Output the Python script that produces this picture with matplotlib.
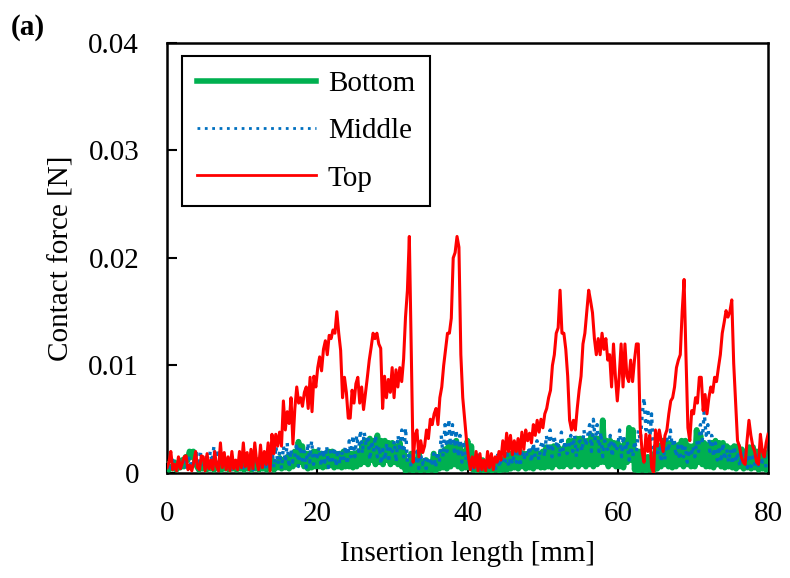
import numpy as np
import matplotlib.pyplot as plt

plt.rcParams['font.family'] = ['Liberation Serif', 'DejaVu Serif']

# Contact force, in mN (converted to N below)
# Top: sampled every ~0.25 mm from 0 to 80 mm
top_mN = [
    0.5, 1.0, 2.0, 0.3, 0.8, 0.2, 1.5, 0.4, 0.9, 1.5, 1.6, 0.3, 0.7, 0.2, 1.0, 2.0, 0.5, 0.3, 1.6, 1.5,
    0.2, 1.8, 0.4, 1.2, 0.3, 2.0, 0.6, 0.2, 2.8, 0.5, 1.9, 0.3, 1.5, 0.2, 2.0, 0.4, 1.2, 0.3, 2.0, 0.5,
    2.8, 0.6, 1.9, 0.3, 2.2, 0.4, 2.8, 1.0, 0.3, 2.6, 0.5, 2.0, 0.8, 2.8, 0.2, 3.6, 1.8, 3.6, 2.5, 3.8,
    2.5, 6.7, 4.0, 5.7, 4.6, 7.0, 2.7, 6.0, 8.0, 6.5, 7.0, 6.2, 7.5, 8.0, 6.0, 8.9, 5.7, 9.0, 8.0, 9.8,
    10.8, 9.5, 11.5, 12.3, 11.0, 12.8, 12.5, 13.3, 13.0, 15.0, 13.0, 11.4, 7.0, 8.9, 7.5, 5.1, 5.1, 7.7, 6.5, 8.3,
    8.9, 6.5, 8.0, 5.9, 7.4, 8.9, 10.5, 11.7, 13.0, 12.5, 13.0, 12.0, 11.6, 6.0, 9.0, 7.0, 8.7, 7.5, 9.8, 7.0,
    9.6, 8.0, 9.8, 8.5, 10.6, 14.5, 17.0, 22.0, 11.5, 1.0, 3.5, 4.0, 1.5, 3.0, 1.9, 2.5, 4.0, 3.2, 5.0, 4.5,
    5.5, 6.0, 4.5, 7.0, 8.0, 10.0, 11.5, 13.0, 13.0, 14.4, 20.0, 20.5, 22.0, 21.0, 11.0, 7.0, 5.0, 3.0, 1.5, 0.3,
    1.5, 0.5, 2.0, 0.2, 1.8, 0.3, 1.2, 0.2, 2.0, 0.5, 1.8, 0.3, 1.5, 1.0, 2.0, 1.2, 3.0, 1.5, 3.7, 2.0,
    3.5, 1.7, 3.0, 2.0, 3.2, 1.8, 3.8, 2.2, 4.0, 3.0, 3.7, 2.8, 4.5, 3.5, 4.9, 3.8, 5.0, 4.2, 5.5, 6.0,
    7.0, 7.7, 10.0, 11.0, 13.0, 13.5, 17.0, 13.0, 13.0, 11.5, 9.0, 4.9, 4.0, 4.9, 4.0, 6.0, 7.7, 9.0, 12.0, 13.0,
    15.0, 17.0, 16.0, 14.9, 12.5, 11.0, 12.5, 11.0, 13.0, 11.5, 12.5, 10.5, 11.0, 8.0, 12.0, 9.0, 6.7, 9.0, 12.0, 8.0,
    12.0, 9.0, 8.5, 10.5, 8.5, 10.5, 12.0, 12.0, 4.2, 2.0, 1.0, 3.6, 2.0, 3.5, 0.5, 0.0, 4.0, 2.5, 4.0, 3.0,
    2.0, 3.5, 4.0, 5.5, 6.7, 7.0, 8.0, 9.8, 10.5, 11.0, 15.0, 18.0, 10.8, 4.2, 3.0, 5.8, 5.5, 7.0, 6.5, 8.9,
    8.9, 5.8, 7.3, 5.5, 7.0, 8.0, 7.5, 8.9, 8.5, 9.8, 11.0, 13.0, 14.0, 15.1, 14.5, 15.0, 16.1, 10.2, 6.5, 3.0,
    2.5, 1.5, 1.0, 0.8, 3.0, 4.9, 3.5, 2.5, 2.0, 1.0, 0.8, 3.6, 2.0, 1.5, 2.8, 3.6,
]

# Middle: sampled every 0.25 mm from 0 to 80 mm
middle_mN = [
    1.0, 0.3, 0.5, 1.2, 0.4, 0.6, 1.0, 0.3, 0.8, 1.2, 0.4, 1.0, 1.5, 0.5, 0.8, 1.2, 1.8, 0.6, 2.0, 0.8,
    0.8, 1.5, 0.4, 2.0, 1.0, 2.5, 0.6, 2.2, 0.8, 1.5, 0.4, 1.2, 0.6, 1.5, 0.3, 1.2, 0.5, 1.0, 0.3, 0.8,
    1.0, 0.3, 0.8, 1.2, 0.4, 1.0, 0.3, 0.8, 1.0, 0.4, 1.5, 0.5, 1.2, 0.3, 1.8, 0.6, 2.0, 0.5, 2.5, 0.8,
    2.0, 0.4, 2.5, 1.0, 2.8, 0.5, 2.2, 1.0, 1.5, 2.8, 0.6, 2.5, 1.2, 2.0, 0.5, 2.8, 1.0, 3.0, 0.8, 2.0,
    1.5, 2.4, 0.6, 2.2, 1.0, 2.5, 0.5, 2.0, 1.2, 2.4, 0.6, 2.2, 0.8, 2.0, 1.2, 2.5, 0.8, 3.0, 1.5, 3.5,
    1.5, 3.5, 2.0, 4.0, 1.8, 3.8, 2.5, 3.5, 1.2, 3.0, 2.0, 3.5, 1.5, 2.5, 0.8, 2.2, 1.2, 2.8, 1.0, 2.5,
    2.0, 3.0, 1.0, 3.5, 2.0, 4.0, 1.5, 4.2, 1.0, 2.0, 0.5, 1.5, 0.8, 2.0, 0.4, 1.8, 0.8, 1.5, 0.4, 1.2,
    1.5, 0.6, 1.8, 0.5, 2.0, 1.0, 3.5, 1.5, 4.5, 2.0, 5.0, 2.5, 4.5, 2.0, 4.0, 1.5, 3.5, 1.0, 3.0, 1.2,
    2.0, 0.6, 1.5, 0.4, 1.2, 0.6, 1.8, 0.3, 1.5, 0.5, 1.2, 0.3, 1.5, 0.6, 1.2, 0.4, 1.8, 0.5, 1.5, 0.8,
    1.0, 1.8, 0.6, 1.5, 0.8, 2.0, 1.0, 1.8, 0.6, 2.2, 1.2, 2.0, 1.5, 2.5, 1.0, 2.8, 1.5, 3.0, 1.2, 2.5,
    3.0, 1.5, 3.5, 2.0, 4.0, 1.5, 3.5, 2.5, 3.0, 1.5, 3.8, 2.0, 3.0, 1.8, 2.5, 3.5, 2.0, 3.5, 1.5, 2.8,
    3.0, 2.0, 4.0, 2.5, 3.5, 4.5, 2.0, 5.0, 3.0, 4.5, 2.0, 3.8, 1.5, 3.0, 2.5, 2.0, 3.5, 1.5, 3.0, 2.0,
    2.5, 4.0, 1.5, 3.5, 2.0, 3.0, 1.2, 2.5, 1.5, 3.0, 2.0, 4.0, 3.0, 5.5, 7.0, 4.0, 6.0, 3.0, 5.5, 2.0,
    3.0, 1.5, 2.5, 1.0, 2.8, 1.2, 3.5, 2.0, 4.0, 2.5, 3.2, 1.5, 2.5, 1.2, 2.8, 1.5, 2.5, 1.0, 2.2, 1.5,
    2.5, 1.5, 3.0, 2.0, 4.5, 3.0, 5.7, 3.5, 4.5, 2.0, 3.5, 1.5, 2.8, 1.2, 2.5, 1.0, 2.8, 1.2, 2.2, 1.0,
    2.2, 0.8, 2.5, 1.0, 2.0, 0.6, 1.8, 1.0, 2.0, 0.5, 1.8, 0.6, 1.5, 0.8, 2.0, 0.5, 1.5, 1.0, 2.0, 0.4,
    0.5,
]

# Bottom: sampled every 0.25 mm from 0 to 80 mm
bottom_mN = [
    0.8, 0.3, 0.6, 0.4, 1.0, 0.3, 0.8, 0.5, 1.2, 0.6, 1.5, 1.2, 2.0, 1.5, 2.0, 1.0, 0.6, 0.3, 1.0, 0.4,
    0.8, 0.3, 0.6, 0.4, 1.0, 0.3, 0.8, 0.4, 0.9, 0.3, 0.6, 0.4, 1.0, 0.3, 0.8, 0.4, 0.9, 0.3, 0.7, 0.4,
    1.0, 0.3, 0.8, 0.4, 0.9, 0.3, 0.7, 0.4, 1.2, 0.3, 0.9, 0.4, 1.0, 0.3, 0.8, 0.4, 1.2, 0.3, 0.9, 0.5,
    1.4, 0.4, 1.2, 0.5, 1.5, 0.4, 1.2, 0.6, 2.0, 0.8, 2.9, 1.0, 2.5, 0.6, 1.8, 0.4, 1.8, 0.5, 2.0, 0.6,
    2.0, 0.6, 1.8, 0.5, 1.8, 0.6, 2.0, 0.7, 2.0, 0.5, 1.8, 0.6, 1.8, 0.5, 2.0, 0.6, 1.9, 0.6, 1.8, 0.5,
    1.8, 0.6, 2.0, 0.8, 2.8, 1.0, 3.0, 0.8, 3.2, 1.2, 3.0, 0.8, 3.5, 1.0, 3.0, 0.8, 3.0, 1.2, 2.8, 0.8,
    2.8, 1.0, 2.5, 0.8, 2.8, 0.6, 2.0, 0.2, 1.0, 0.3, 1.8, 0.2, 1.2, 0.3, 2.0, 0.2, 1.0, 0.3, 1.2, 0.2,
    1.0, 0.3, 1.8, 0.2, 1.5, 0.4, 2.0, 0.5, 2.2, 0.4, 2.8, 0.6, 2.5, 0.8, 3.0, 0.6, 2.5, 0.4, 2.0, 0.5,
    3.0, 0.5, 2.5, 0.3, 1.2, 0.2, 0.8, 0.3, 1.2, 0.2, 0.9, 0.3, 1.0, 0.2, 0.8, 0.3, 1.0, 0.2, 0.9, 0.3,
    1.5, 0.3, 1.8, 0.4, 1.8, 0.5, 2.0, 0.4, 2.0, 0.6, 1.8, 0.4, 1.8, 0.5, 2.0, 0.4, 2.0, 0.6, 1.8, 0.5,
    2.0, 0.5, 2.4, 0.6, 2.4, 0.5, 2.5, 0.8, 2.5, 0.6, 2.2, 0.6, 2.5, 0.8, 3.0, 0.6, 3.0, 0.8, 3.2, 0.6,
    3.2, 0.8, 3.0, 0.6, 3.0, 0.8, 3.5, 0.6, 3.2, 0.8, 3.2, 1.0, 4.9, 1.0, 3.0, 0.6, 3.0, 0.8, 2.8, 0.6,
    2.8, 0.6, 2.5, 0.5, 3.0, 1.0, 4.2, 1.2, 4.0, 0.3, 2.0, 0.2, 2.0, 0.3, 1.5, 0.2, 1.5, 0.3, 1.2, 0.2,
    2.0, 0.4, 2.5, 0.6, 3.0, 0.8, 2.8, 0.6, 2.8, 0.5, 2.6, 0.6, 2.6, 0.8, 3.0, 0.6, 3.0, 0.8, 2.5, 0.6,
    2.5, 0.6, 4.0, 1.0, 3.5, 0.8, 2.8, 0.6, 2.6, 0.6, 2.8, 0.5, 3.0, 0.8, 2.8, 0.6, 2.8, 0.5, 2.5, 0.6,
    2.3, 0.5, 2.5, 0.4, 2.5, 0.6, 2.2, 0.4, 2.0, 0.5, 2.4, 0.4, 2.4, 0.5, 2.0, 0.3, 2.0, 0.4, 2.0, 0.3,
    1.0,
]

top = np.array(top_mN) * 1e-3
middle = np.array(middle_mN) * 1e-3
bottom = np.array(bottom_mN) * 1e-3

x_top = np.linspace(0, 80, len(top))
x_mid = np.linspace(0, 80, len(middle))
x_bot = np.linspace(0, 80, len(bottom))

yticks = [0, 0.01, 0.02, 0.03, 0.04]
ytick_labels = ['0', '0.01', '0.02', '0.03', '0.04']
xticks = [0, 20, 40, 60, 80]

fig = plt.figure(figsize=(7.9, 5.78), dpi=100)
ax = fig.add_axes([0.2114, 0.1817, 0.7608, 0.744])

ax.plot(x_bot, bottom, color='#00B050', lw=4.2, label='Bottom', zorder=3)
ax.plot(x_mid, middle, color='#0070C0', lw=2.4, ls=':', label='Middle', zorder=4)
ax.plot(x_top, top, color='#FF0000', lw=2.2, label='Top', zorder=5)

ax.set_xlim(0, 80)
ax.set_ylim(0, 0.04)
ax.set_xticks(xticks)
ax.set_yticks(yticks)
ax.set_yticklabels(ytick_labels)
ax.tick_params(axis='both', direction='in', length=7, width=1.5, labelsize=21)
ax.tick_params(axis='y', pad=20)
ax.tick_params(axis='x', pad=20)

for s in ax.spines.values():
    s.set_linewidth(1.8)
ax.spines['bottom'].set_zorder(1)

ax.set_xlabel('Insertion length [mm]', fontsize=21, labelpad=10)
ax.set_ylabel('Contact force [N]', fontsize=21, labelpad=10)

leg = ax.legend(loc='upper left', bbox_to_anchor=(0.025, 0.97), fontsize=21,
                frameon=True, fancybox=False, edgecolor='black', framealpha=1,
                handlelength=4.1, borderpad=0.5, labelspacing=0.72, handletextpad=0.4,
                borderaxespad=0)
leg.get_frame().set_linewidth(1.5)
for h in leg.get_lines():
    h.set_linewidth({'#00B050': 4.0, '#0070C0': 2.0, '#FF0000': 2.0}[h.get_color()])

fig.text(0.013, 0.952, '(a)', fontsize=21, fontweight='bold', va='center', ha='left')

fig.savefig('out.png', dpi=100)
